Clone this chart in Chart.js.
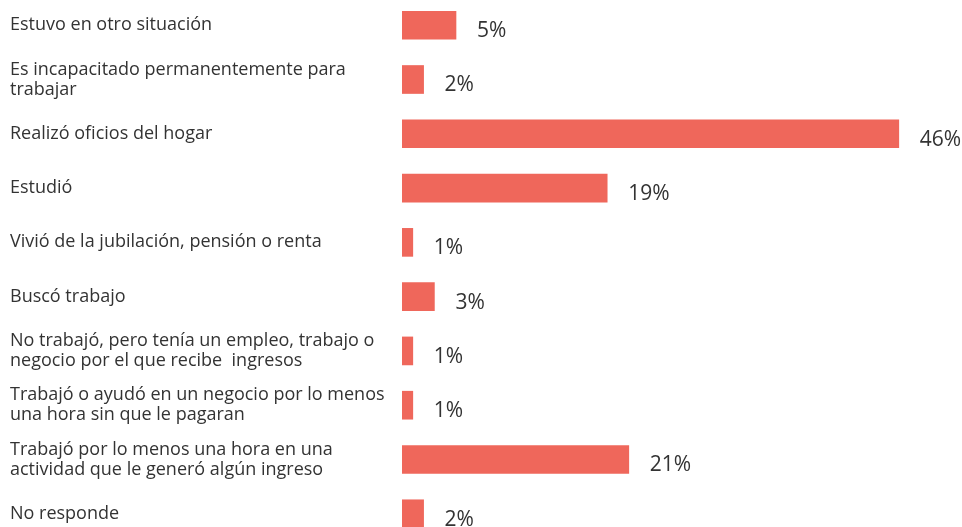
<!DOCTYPE html>
<html>
<head>
<meta charset="utf-8">
<script src="https://cdn.jsdelivr.net/npm/chart.js@4"></script>
<style>
    html, body { margin: 0; padding: 0; background: #fff; overflow: hidden; }
    #wrap { position: absolute; left: 0; top: -12px; width: 962px; height: 563px; }
</style>
</head>
<body>
<div id="wrap"><canvas id="graficoBarra"></canvas></div>
<script>
const categorias = [
    'Estuvo en otro situación',
    ['Es incapacitado permanentemente para', 'trabajar'],
    'Realizó oficios del hogar',
    'Estudió',
    'Vivió de la jubilación, pensión o renta',
    'Buscó trabajo',
    ['No trabajó, pero tenía un empleo, trabajo o', 'negocio por el que recibe  ingresos'],
    ['Trabajó o ayudó en un negocio por lo menos', 'una hora sin que le pagaran'],
    ['Trabajó por lo menos una hora en una', 'actividad que le generó algún ingreso'],
    'No responde'
];
const porcentajes = [5, 2, 46, 19, 1, 3, 1, 1, 21, 2];

const etiquetasValor = {
    id: 'etiquetasValor',
    afterDatasetsDraw(chart) {
        const ctx = chart.ctx;
        const meta = chart.getDatasetMeta(0);
        ctx.save();
        ctx.font = '21px "Open Sans"';
        ctx.fillStyle = '#333333';
        ctx.textBaseline = 'middle';
        ctx.textAlign = 'left';
        meta.data.forEach((bar, i) => {
            ctx.fillText(porcentajes[i] + '%', bar.x + 21, bar.y + 6);
        });
        ctx.restore();
    }
};

const ctx = document.getElementById('graficoBarra').getContext('2d');
new Chart(ctx, {
    type: 'bar',
    data: {
        labels: categorias,
        datasets: [{
            data: porcentajes,
            backgroundColor: '#EF675B',
            borderWidth: 0,
            barThickness: 28
        }]
    },
    options: {
        indexAxis: 'y',
        responsive: true,
        maintainAspectRatio: false,
        animation: false,
        layout: { padding: { left: 10, right: 20, top: 0, bottom: 0 } },
        plugins: {
            legend: { display: false },
            tooltip: { enabled: false }
        },
        scales: {
            x: { display: false, min: 0, max: 50 },
            y: {
                grid: { display: false, drawTicks: false },
                border: { display: false },
                afterFit(scale) { scale.width = 392; },
                ticks: {
                    crossAlign: 'far',
                    color: '#333333',
                    padding: 0,
                    font: { family: 'Open Sans', size: 18, lineHeight: 1.12 }
                }
            }
        }
    },
    plugins: [etiquetasValor]
});
</script>
</body>
</html>
